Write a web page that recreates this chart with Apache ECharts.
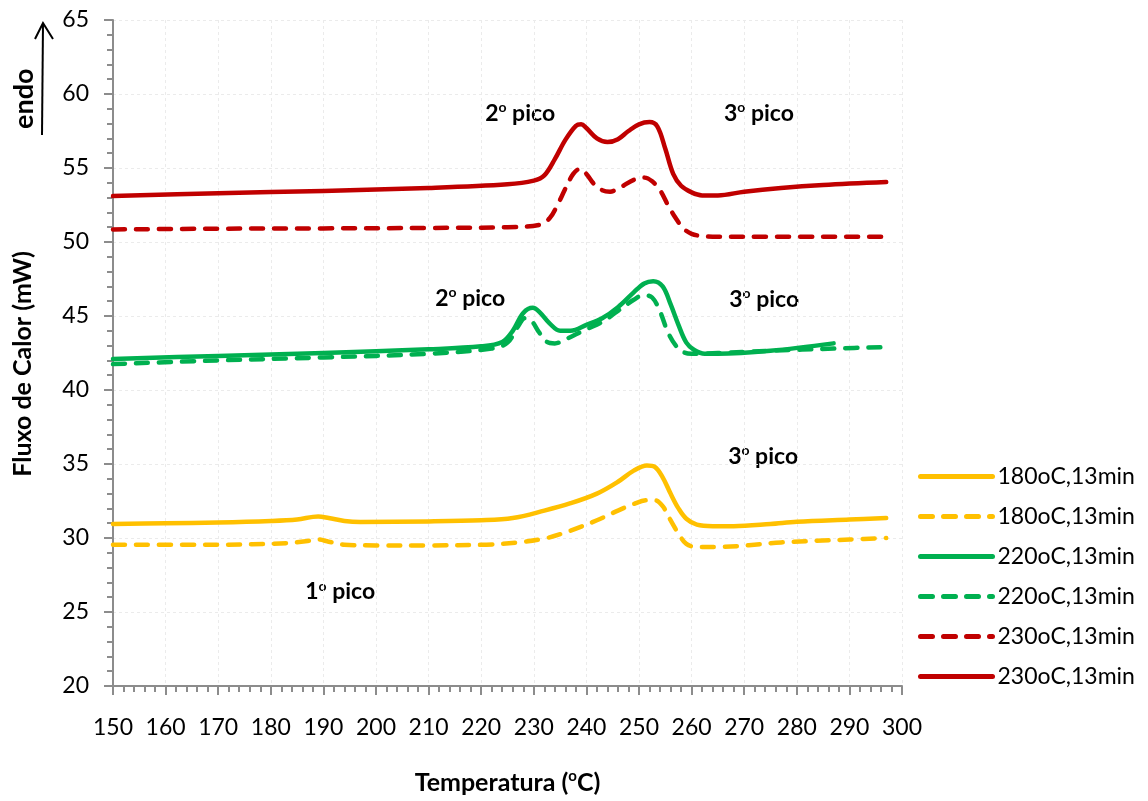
<!DOCTYPE html>
<html>
<head>
<meta charset="utf-8">
<script src="https://cdn.jsdelivr.net/npm/echarts@6/dist/echarts.min.js"></script>
<style>
html,body{margin:0;padding:0;background:#fff;}
#chart{width:1148px;height:801px;}
</style>
</head>
<body>
<div id="chart"></div>
<script>
// ---- Data (temperature °C, heat flow mW) ----
const legendLabels = ['180oC,13min','180oC,13min','220oC,13min','220oC,13min','230oC,13min','230oC,13min'];

const y180solid = [[150,30.95],[160,31.0],[170,31.05],[180,31.15],[185,31.25],[189,31.45],[191,31.35],[194,31.15],[197,31.08],[210,31.12],[220,31.2],[226,31.35],[232,31.85],[237,32.35],[242,33.0],[246,33.8],[249,34.55],[251.5,34.9],[253,34.8],[254.5,34.1],[256,33.0],[257.5,32.0],[259,31.3],[261,30.9],[264,30.8],[268,30.8],[275,30.95],[280,31.1],[290,31.25],[297,31.35]];
const y180dash = [[150,29.55],[170,29.55],[183,29.65],[187,29.8],[189,29.9],[191,29.75],[194,29.55],[200,29.5],[210,29.5],[221,29.55],[227,29.7],[232.5,30.0],[237,30.5],[242,31.2],[246,31.85],[249,32.3],[251.5,32.55],[253,32.55],[254.5,32.15],[256,31.2],[257.5,30.3],[259,29.6],[261,29.4],[265,29.4],[277,29.7],[290,29.9],[297,30.0]];
const y220solid = [[150,42.1],[170,42.3],[190,42.5],[210,42.75],[220,42.95],[224,43.25],[226,44.0],[228,45.2],[229.8,45.55],[231,45.3],[233,44.5],[235,44.0],[237,44.0],[240,44.4],[243,44.85],[246,45.6],[249,46.6],[251,47.2],[252.7,47.35],[254.5,47.0],[256,45.8],[257.5,44.4],[259,43.2],[260.5,42.7],[262.5,42.45],[265,42.45],[275,42.65],[287,43.15]];
const y220dash = [[150,41.75],[170,42.0],[190,42.2],[210,42.45],[222,42.8],[225,43.2],[227,44.3],[228.3,44.85],[229.5,44.7],[231,43.9],[232.5,43.25],[234,43.15],[236.5,43.5],[240,44.1],[243,44.6],[246,45.35],[249,46.1],[250.8,46.4],[252.5,46.25],[254,45.3],[255.5,43.9],[257,43.0],[258.5,42.55],[260,42.45],[265,42.5],[275,42.65],[287,42.8],[297,42.9]];
const y230dash = [[150,50.85],[170,50.9],[190,50.92],[210,50.95],[225,51.0],[231,51.15],[233,51.6],[234.5,52.5],[236,53.6],[237.5,54.6],[238.8,54.95],[240,54.6],[241.5,53.9],[243,53.5],[244.5,53.4],[246.5,53.7],[249,54.2],[251,54.35],[252.5,54.1],[254,53.5],[255.5,52.5],[257,51.6],[258.5,50.9],[260,50.55],[262,50.4],[265,50.35],[297,50.35]];
const y230solid = [[150,53.1],[170,53.3],[190,53.45],[210,53.65],[225,53.9],[230,54.15],[232,54.5],[234,55.6],[236,56.9],[238,57.85],[239,57.95],[240,57.7],[242,57.0],[244,56.75],[246,56.95],[248,57.5],[250,57.95],[252,58.1],[253.5,57.8],[255,56.3],[256.5,54.6],[258,53.8],[260,53.35],[262,53.15],[265,53.15],[270,53.4],[277,53.65],[285,53.85],[297,54.05]];

// annotation labels: ordinal and [T, value] position
const annotNum = ['2','3','2','3','3','1'];
const annotPos = [[227.4,58.7],[272.8,58.7],[217.9,46.2],[273.8,46.1],[273.6,35.5],[193.2,26.35]];

const xTicks = {min:150, max:300, interval:10};
const yTicks = {min:20, max:65, interval:5};

const RED='#C00000', GREEN='#00B050', YEL='#FFC000';
const FONT='Lato';

function lineSeries(id, data, color, dashed){
  return {
    id:id, name:id, type:'line', data:data, smooth:0.35, symbol:'none',
    showSymbol:false,
    lineStyle:{color:color, width:4.5, type: dashed ? [12,11] : 'solid', cap:'round', join:'round'},
    itemStyle:{color:color},
    emphasis:{disabled:true}
  };
}

const seriesIds = ['s180a','s180b','s220a','s220b','s230b','s230a'];
const series = [
  lineSeries('s180a', y180solid, YEL, false),
  lineSeries('s180b', y180dash, YEL, true),
  lineSeries('s220a', y220solid, GREEN, false),
  lineSeries('s220b', y220dash, GREEN, true),
  lineSeries('s230b', y230dash, RED, true),
  lineSeries('s230a', y230solid, RED, false)
];

const baseGraphic = [
  {id:'endo', type:'text', x:11, y:129, rotation:Math.PI/2,
    style:{text:'endo', fontFamily:FONT, fontWeight:'bold', fontSize:27, fill:'#000', verticalAlign:'top'}},
  {id:'arr1', type:'polyline', shape:{points:[[42,135],[43,23]]}, style:{stroke:'#000', lineWidth:2, fill:null}},
  {id:'arr2', type:'polyline', shape:{points:[[35,39],[43,23],[53,39]]}, style:{stroke:'#000', lineWidth:2, fill:null}}
];

const chart = echarts.init(document.getElementById('chart'), null, {renderer:'canvas'});
chart.setOption({
  backgroundColor:'#fff',
  animation:false,
  grid:{left:113, right:246, top:20, bottom:115, containLabel:false},
  legend:{
    data: seriesIds,
    orient:'vertical', left:913, top:460,
    itemWidth:72, itemHeight:20, itemGap:17,
    selectedMode:false,
    itemStyle:{opacity:0},
    lineStyle:{width:5, cap:'round'},
    formatter:(name)=>legendLabels[seriesIds.indexOf(name)],
    textStyle:{fontFamily:FONT, fontSize:23, color:'#000'}
  },
  xAxis:{
    type:'value', min:xTicks.min, max:xTicks.max, interval:xTicks.interval,
    name:'Temperatura ({s|o}C)',
    nameLocation:'middle', nameGap:83,
    nameTextStyle:{fontFamily:FONT, fontWeight:'bold', fontSize:25, color:'#000',
      rich:{s:{fontFamily:FONT, fontWeight:'bold', fontSize:15, color:'#000', verticalAlign:'top', padding:[0,0,12,0]}}},
    axisLine:{show:true, onZero:false, lineStyle:{color:'#8c8c8c', width:2}},
    axisTick:{show:true, inside:false, length:9, lineStyle:{color:'#8c8c8c', width:2}},
    minorTick:{show:true, splitNumber:5, length:6, lineStyle:{color:'#8c8c8c', width:2}},
    axisLabel:{fontFamily:FONT, fontSize:23, color:'#000', margin:30},
    splitLine:{show:true, lineStyle:{color:'#ebebeb', width:1, type:[3,3]}}
  },
  yAxis:{
    type:'value', min:yTicks.min, max:yTicks.max, interval:yTicks.interval,
    name:'Fluxo de Calor (mW)',
    nameLocation:'middle', nameGap:78,
    nameTextStyle:{fontFamily:FONT, fontWeight:'bold', fontSize:25, color:'#000', padding:[0,0,0,-22]},
    axisLine:{show:true, onZero:false, lineStyle:{color:'#8c8c8c', width:2}},
    axisTick:{show:true, inside:false, length:9, lineStyle:{color:'#8c8c8c', width:2}},
    minorTick:{show:true, splitNumber:5, length:6, lineStyle:{color:'#8c8c8c', width:2}},
    axisLabel:{fontFamily:FONT, fontSize:23, color:'#000', margin:24},
    splitLine:{show:true, lineStyle:{color:'#ebebeb', width:1, type:[3,3]}}
  },
  graphic: baseGraphic,
  series: series
});

// annotations placed through the chart's own coordinate system
const annotGraphic = annotPos.map((p,i)=>{
  const px = chart.convertToPixel({gridIndex:0}, p);
  return {
    id:'annot'+i, type:'text', x:px[0], y:px[1], silent:true,
    style:{
      text:'{n|'+annotNum[i]+'}{s|o}{n| pico}',
      align:'center', verticalAlign:'middle',
      rich:{
        n:{fontFamily:FONT, fontWeight:'bold', fontSize:23, fill:'#000', color:'#000'},
        s:{fontFamily:FONT, fontWeight:'bold', fontSize:14, fill:'#000', color:'#000', verticalAlign:'top', padding:[0,0,12,0]}
      }
    }
  };
});
chart.setOption({graphic: baseGraphic.concat(annotGraphic)});
</script>
</body>
</html>
